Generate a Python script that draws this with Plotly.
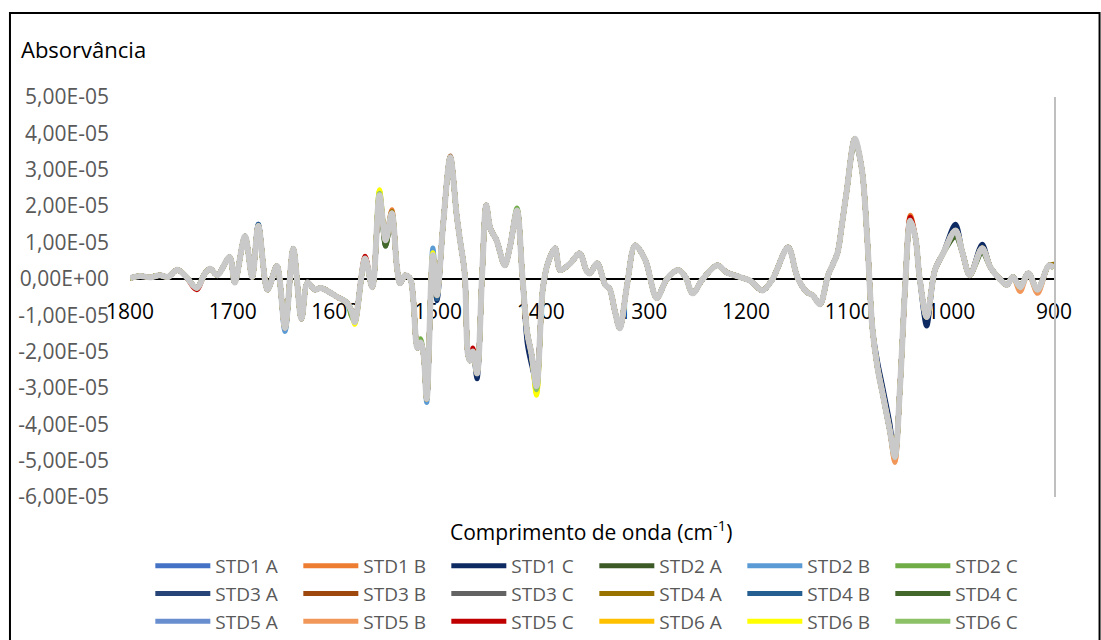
import plotly.graph_objects as go

# ---------------- data (absorbance in units of 1e-5) ----------------
wavenumber = [1800, 1790, 1781, 1771, 1763, 1754, 1746, 1735, 1727, 1722, 1715, 1703, 1698, 1688,
              1681, 1675, 1666, 1657, 1649, 1641, 1633, 1627, 1620, 1614, 1598, 1589, 1584, 1581,
              1571, 1564, 1557, 1551, 1545, 1540, 1537, 1532, 1527, 1524, 1520, 1517, 1514, 1511,
              1505, 1501, 1495, 1488, 1482, 1479, 1474, 1471, 1469, 1466, 1462, 1457, 1453, 1449,
              1443, 1435, 1430, 1423, 1418, 1413, 1409, 1404, 1398, 1393, 1386, 1381, 1371, 1362,
              1355, 1352, 1345, 1337, 1333, 1328, 1323, 1316, 1308, 1298, 1287, 1277, 1266, 1259,
              1252, 1242, 1228, 1219, 1206, 1196, 1184, 1174, 1159, 1150, 1141, 1135, 1128, 1120,
              1111, 1107, 1102, 1094, 1087, 1082, 1077, 1072, 1067, 1060, 1055, 1050, 1045, 1040,
              1035, 1031, 1024, 1016, 1008, 996, 989, 982, 970, 962, 953, 946, 940, 933, 925, 916,
              905, 900]

base_values = [0.02, 0.08, 0.04, 0.10, 0.05, 0.25, 0.08, -0.25, 0.15, 0.28, 0.10, 0.60, -0.10, 1.17,
               0.05, 1.45, -0.30, 0.35, -1.35, 0.83, -1.10, -0.10, -0.30, -0.25, -0.50, -0.65, -0.90, -1.19,
               0.56, -0.23, 2.30, 1.06, 1.80, 0.32, -0.12, 0.10, 0.00, -0.60, -1.90, -1.75, -2.10, -3.30,
               0.65, -0.45, 1.50, 3.34, 1.80, 1.15, 0.15, -2.05, -2.25, -2.00, -2.60, 0.15, 2.02, 1.38,
               1.06, 0.37, 0.87, 1.88, 0.15, -1.50, -2.05, -2.95, -0.30, 0.43, 0.84, 0.24, 0.43, 0.70,
               0.20, 0.15, 0.43, -0.17, -0.26, -0.85, -1.36, -0.20, 0.92, 0.51, -0.53, 0.00, 0.24, 0.05,
               -0.40, 0.00, 0.37, 0.18, 0.05, -0.05, -0.32, 0.00, 0.87, 0.05, -0.36, -0.45, -0.70, 0.10,
               0.70, 1.40, 2.40, 3.85, 2.98, 1.14, -1.33, -2.43, -3.15, -4.16, -4.90, -2.98, -0.23, 1.60,
               1.14, 0.05, -1.05, 0.24, 0.70, 1.33, 0.70, 0.10, 0.84, 0.32, 0.00, -0.17, 0.05, -0.23, 0.15, -0.30,
               0.37, 0.30]

series_names = ["STD1 A", "STD1 B", "STD1 C", "STD2 A", "STD2 B", "STD2 C",
                "STD3 A", "STD3 B", "STD3 C", "STD4 A", "STD4 B", "STD4 C",
                "STD5 A", "STD5 B", "STD5 C", "STD6 A", "STD6 B", "STD6 C"]

series_colors = ["#4472C4", "#ED7D31", "#0E2A63", "#3B5A26", "#5B9BD5", "#70AD47",
                 "#264478", "#9E480E", "#636363", "#997300", "#255E91", "#43682B",
                 "#698ED0", "#F1975A", "#C00000", "#FFC000", "#FFFF00", "#8CC168"]

# points where each replicate visibly departs from the common curve (wavenumber, value)
std1_a = [(1675, 1.50), (1649, -1.40)]
std1_b = [(1545, 1.90), (1055, -5.00), (1040, 1.75)]
std1_c = [(1501, -0.60), (1462, -2.75), (1413, -1.80), (1409, -2.35), (1404, -2.85),
          (1072, -2.25), (1067, -2.95), (1060, -3.95), (1024, -1.30), (996, 1.50), (970, 0.95)]
std2_a = [(1557, 2.20), (1551, 0.90)]
std2_b = [(1505, 0.85), (1511, -3.40), (1649, -1.45)]
std2_c = [(1557, 2.42), (1423, 1.95), (1404, -3.10), (1517, -1.65), (1584, -1.05)]
std3_a = [(1462, -2.65)]
std3_b = [(1488, 3.38)]
std3_c = [(916, -0.35)]
std4_a = [(1545, 1.85), (900, 0.40)]
std4_b = [(1675, 1.50), (1501, -0.55)]
std4_c = [(1505, 0.55), (1551, 0.90), (1094, 3.75), (996, 1.15), (970, 0.72)]
std5_a = [(1649, -1.38)]
std5_b = [(1055, -5.05), (933, -0.35), (916, -0.40)]
std5_c = [(1571, 0.62), (1466, -1.90), (1040, 1.70), (1735, -0.30)]
std6_a = [(1404, -3.15)]
std6_b = [(1557, 2.45), (1404, -3.20), (1505, 0.72), (1581, -1.25)]
std6_c = [(1404, -3.05), (1557, 2.35)]

series_adjust = [std1_a, std1_b, std1_c, std2_a, std2_b, std2_c,
                 std3_a, std3_b, std3_c, std4_a, std4_b, std4_c,
                 std5_a, std5_b, std5_c, std6_a, std6_b, std6_c]

y_tick_values = [5, 4, 3, 2, 1, 0, -1, -2, -3, -4, -5, -6]
y_tick_labels = ["5,00E-05", "4,00E-05", "3,00E-05", "2,00E-05", "1,00E-05", "0,00E+00",
                 "-1,00E-05", "-2,00E-05", "-3,00E-05", "-4,00E-05", "-5,00E-05", "-6,00E-05"]
x_tick_values = [1800, 1700, 1600, 1500, 1400, 1300, 1200, 1100, 1000, 900]

SCALE = 1e-5
FONT = "Open Sans"
SMOOTH = 0.9

fig = go.Figure()

for name, color, adj in zip(series_names, series_colors, series_adjust):
    lookup = dict(adj)
    vals = [lookup.get(w, v) * SCALE for w, v in zip(wavenumber, base_values)]
    fig.add_trace(go.Scatter(x=wavenumber, y=vals, name=name, mode="lines",
                             line=dict(color=color, width=5, shape="spline", smoothing=SMOOTH)))

# light grey curve drawn on top of all replicates
fig.add_trace(go.Scatter(x=wavenumber, y=[v * SCALE for v in base_values], name="",
                         mode="lines", showlegend=False, yaxis="y2",
                         line=dict(color="#C9C9C9", width=6, shape="spline", smoothing=SMOOTH)))

yrange = [-6 * SCALE, 5 * SCALE]

fig.update_layout(
    width=1101, height=640,
    margin=dict(l=130, r=47, t=97, b=143, autoexpand=False),
    paper_bgcolor="white", plot_bgcolor="white",
    font=dict(family=FONT, size=21, color="#595959"),
    showlegend=True,
    xaxis=dict(range=[1800, 900], tickvals=x_tick_values, ticktext=[str(v) for v in x_tick_values],
               anchor="free", position=6 / 11, showline=False, showgrid=False, zeroline=False,
               ticks="", ticklabelstandoff=18, tickfont=dict(color="black", size=21, family=FONT),
               layer="below traces"),
    yaxis=dict(range=yrange, tickvals=[v * SCALE for v in y_tick_values], ticktext=y_tick_labels,
               showgrid=False, zeroline=True, zerolinecolor="black", zerolinewidth=1.5,
               showline=False, ticks="", ticklabelstandoff=20,
               tickfont=dict(color="#595959", size=21, family=FONT)),
    yaxis2=dict(range=yrange, overlaying="y", side="right", showline=True, linecolor="#BFBFBF",
                linewidth=2, showticklabels=False, showgrid=False, zeroline=False, ticks=""),
    legend=dict(orientation="h", x=0.022, xanchor="left", y=-0.125, yanchor="top",
                entrywidth=78, entrywidthmode="pixels", itemwidth=55,
                font=dict(family=FONT, size=19, color="#595959"), bgcolor="rgba(0,0,0,0)"),
    annotations=[
        dict(text="Absorvância", xref="paper", yref="paper", x=-0.1201, y=1.12,
             xanchor="left", yanchor="middle", showarrow=False,
             font=dict(family=FONT, size=22, color="black")),
        dict(text="Comprimento de onda (cm<sup>-1</sup>)", xref="paper", yref="paper",
             x=0.4989, y=-0.0825, xanchor="center", yanchor="middle", showarrow=False,
             font=dict(family=FONT, size=21, color="black")),
    ],
    shapes=[dict(type="rect", xref="paper", yref="paper", x0=-0.1299, x1=1.0493,
                 y0=-0.45, y1=1.21, line=dict(color="black", width=2), fillcolor="rgba(0,0,0,0)")],
)

fig.write_html("out.html")
